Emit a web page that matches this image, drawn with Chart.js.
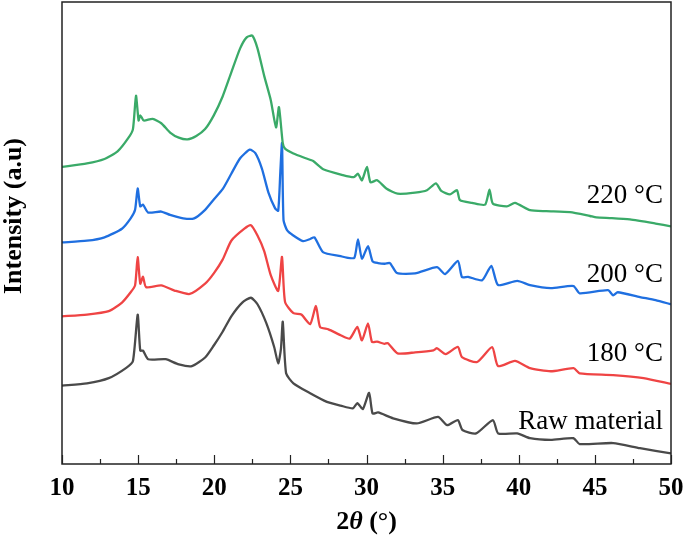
<!DOCTYPE html>
<html>
<head>
<meta charset="utf-8">
<script src="https://cdn.jsdelivr.net/npm/chart.js@4/dist/chart.umd.min.js"></script>
<style>
  html, body { margin: 0; padding: 0; background: #fff; }
  canvas { display: block; }
</style>
</head>
<body>
<canvas id="xrd" width="685" height="539"></canvas>
<script>
// 2θ positions (deg) and intensities (a.u., offset stack as drawn)
const x220 = [10.00, 11.64, 12.79, 13.65, 14.37, 14.66, 14.86, 15.03, 15.14, 15.37, 15.95, 16.52, 17.10, 17.67, 18.25, 18.82, 19.40, 19.97, 20.55, 21.12, 21.70, 22.13, 22.50, 22.84, 23.28, 23.71, 24.06, 24.25, 24.50, 24.65, 25.20, 26.01, 26.50, 27.16, 28.45, 29.17, 29.44, 29.70, 30.03, 30.26, 30.70, 31.30, 32.04, 33.19, 33.97, 34.56, 34.91, 35.49, 35.94, 36.14, 36.93, 37.79, 38.08, 38.30, 39.22, 39.75, 40.74, 41.81, 43.37, 44.68, 45.10, 46.12, 47.30, 48.99, 50.00]
const y220 = [865, 875, 888, 910, 950, 975, 1072, 1000, 1015, 1000, 1005, 992, 965, 950, 945, 955, 975, 1015, 1070, 1140, 1210, 1242, 1247, 1210, 1130, 1060, 980, 1039, 934, 918, 904, 890, 882, 858, 841, 835, 845, 826, 865, 820, 826, 802, 787, 790, 797, 817, 795, 785, 797, 768, 760, 755, 799, 758, 750, 760, 739, 736, 733, 722, 718, 716, 712, 700, 692]

const x200 = [10.00, 11.64, 12.79, 13.94, 14.51, 14.80, 14.97, 15.14, 15.32, 15.66, 16.52, 17.10, 17.96, 18.68, 19.40, 19.97, 20.55, 21.12, 21.70, 22.33, 22.70, 23.13, 23.56, 23.99, 24.20, 24.34, 24.45, 24.55, 24.78, 25.17, 25.83, 26.30, 26.58, 27.14, 28.30, 28.70, 29.20, 29.44, 29.70, 30.10, 30.40, 30.75, 31.20, 31.54, 32.00, 33.19, 34.63, 35.16, 36.00, 36.27, 36.67, 37.60, 38.20, 38.64, 39.90, 40.74, 42.10, 43.60, 44.00, 45.86, 46.20, 46.50, 47.96, 48.99, 50.00]
const y200 = [645, 650, 660, 685, 715, 740, 802, 750, 755, 732, 735, 725, 715, 715, 740, 770, 800, 845, 890, 915, 905, 860, 790, 745, 737, 850, 934, 710, 681, 666, 649, 655, 660, 617, 605, 601, 600, 654, 598, 634, 590, 585, 583, 585, 556, 555, 573, 553, 591, 544, 545, 535, 577, 521, 533, 521, 512, 518, 497, 506, 491, 500, 486, 477, 465]

const x180 = [10.00, 11.64, 13.07, 13.94, 14.51, 14.80, 14.97, 15.14, 15.32, 15.52, 16.52, 17.39, 18.39, 19.40, 19.97, 20.55, 21.12, 21.98, 22.41, 22.84, 23.28, 23.71, 24.20, 24.45, 24.65, 25.20, 25.72, 26.30, 26.68, 26.95, 27.50, 28.30, 28.90, 29.40, 29.70, 30.10, 30.36, 30.69, 31.18, 31.40, 32.04, 33.19, 34.40, 34.63, 35.20, 36.00, 36.27, 37.27, 38.25, 38.64, 39.75, 40.74, 42.10, 43.60, 44.00, 46.20, 48.20, 50.00]
const y180 = [430, 435, 445, 470, 500, 520, 602, 525, 545, 515, 520, 505, 495, 525, 555, 595, 650, 685, 695, 665, 620, 550, 504, 603, 472, 439, 435, 407, 460, 399, 392, 375, 365, 399, 360, 409, 355, 356, 350, 352, 322, 325, 331, 337, 320, 341, 311, 297, 340, 285, 300, 279, 270, 279, 264, 259, 250, 233]

const xRaw = [10.00, 11.64, 13.07, 14.22, 14.66, 14.97, 15.14, 15.32, 15.66, 16.81, 17.67, 18.53, 19.40, 19.97, 20.55, 21.12, 21.84, 22.41, 22.84, 23.42, 23.94, 24.20, 24.38, 24.50, 24.72, 25.20, 26.30, 27.40, 28.30, 29.10, 29.40, 29.76, 30.17, 30.40, 30.76, 31.75, 33.30, 34.70, 35.30, 36.00, 36.30, 37.20, 38.30, 38.65, 39.90, 40.74, 42.10, 43.60, 44.00, 46.20, 47.96, 50.00]
const yRaw = [228, 235, 250, 280, 300, 435, 330, 330, 305, 305, 290, 285, 310, 345, 385, 430, 470, 484, 465, 410, 340, 293, 335, 414, 264, 235, 206, 181, 170, 162, 177, 160, 207, 147, 150, 133, 118, 137, 113, 128, 99, 89, 128, 89, 89, 75, 70, 75, 58, 61, 46, 31]

const seriesNames = ['220 °C', '200 °C', '180 °C', 'Raw material']
const seriesColors = ['#3aaa68', '#1f6fe0', '#ef4444', '#4a4a4a']
const labelX = [49.47, 49.47, 49.47, 49.47]
const labelY = [780, 550, 320, 122]
const xTicks = [10, 15, 20, 25, 30, 35, 40, 45, 50]

const toPoints = (xs, ys) => xs.map((x, i) => ({ x, y: ys[i] }))
const allX = [x220, x200, x180, xRaw]
const allY = [y220, y200, y180, yRaw]

const serif = "'Liberation Serif', 'Times New Roman', serif"

const decor = {
  id: 'decor',
  afterDraw(chart) {
    const { ctx, chartArea: a, scales } = chart
    const xs = scales.x
    const ys = scales.y
    ctx.save()

    // frame
    ctx.strokeStyle = '#222'
    ctx.lineWidth = 1.5
    ctx.strokeRect(a.left, a.top, a.right - a.left, a.bottom - a.top)

    // inward ticks on the bottom axis
    ctx.lineWidth = 1.2
    for (let v = 10; v <= 50; v += 2.5) {
      const px = Math.round(xs.getPixelForValue(v)) + 0.5
      const len = v % 5 === 0 ? 9 : 5
      ctx.beginPath()
      ctx.moveTo(px, a.bottom)
      ctx.lineTo(px, a.bottom - len)
      ctx.stroke()
    }

    // curve labels
    ctx.fillStyle = '#000'
    ctx.font = '27px ' + serif
    ctx.textAlign = 'right'
    ctx.textBaseline = 'middle'
    seriesNames.forEach((name, i) => {
      ctx.fillText(name, xs.getPixelForValue(labelX[i]), ys.getPixelForValue(labelY[i]))
    })

    // x title: 2θ (°) with italic theta
    const parts = [
      ['2', 'bold 26px ' + serif],
      ['θ', 'italic bold 26px ' + serif],
      [' (°)', 'bold 26px ' + serif],
    ]
    let total = 0
    parts.forEach(([t, f]) => { ctx.font = f; total += ctx.measureText(t).width })
    let cx = (a.left + a.right) / 2 - total / 2
    ctx.textAlign = 'left'
    ctx.textBaseline = 'middle'
    parts.forEach(([t, f]) => {
      ctx.font = f
      ctx.fillText(t, cx, 522)
      cx += ctx.measureText(t).width
    })

    // y title
    ctx.translate(14, a.top + 214)
    ctx.rotate(-Math.PI / 2)
    ctx.font = 'bold 26px ' + serif
    ctx.textAlign = 'center'
    ctx.fillText('Intensity (a.u)', 0, 0)
    ctx.restore()
  },
}

new Chart(document.getElementById('xrd').getContext('2d'), {
  type: 'line',
  data: {
    datasets: allX.map((xs, i) => ({
      label: seriesNames[i],
      data: toPoints(xs, allY[i]),
      borderColor: seriesColors[i],
      borderWidth: 2.3,
      pointRadius: 0,
      tension: 0.2,
      fill: false,
    })),
  },
  options: {
    responsive: false,
    animation: false,
    devicePixelRatio: 1,
    layout: { padding: { left: 0, right: 14, top: 2, bottom: 0 } },
    plugins: { legend: { display: false }, tooltip: { enabled: false } },
    scales: {
      x: {
        type: 'linear',
        min: 10,
        max: 50,
        afterBuildTicks: (s) => { s.ticks = xTicks.map((v) => ({ value: v })) },
        ticks: {
          color: '#000',
          font: { family: serif, size: 25, weight: 'bold' },
          padding: 10,
          maxRotation: 0,
        },
        grid: { display: false, drawTicks: false },
        border: { display: false },
        afterFit: (s) => {
          s.height = 75
          s.paddingLeft = 0
          s.paddingRight = 0
        },
      },
      y: {
        min: 0,
        max: 1345,
        ticks: { display: false },
        grid: { display: false, drawTicks: false },
        border: { display: false },
        afterFit: (s) => { s.width = 62 },
      },
    },
  },
  plugins: [decor],
})
</script>
</body>
</html>
